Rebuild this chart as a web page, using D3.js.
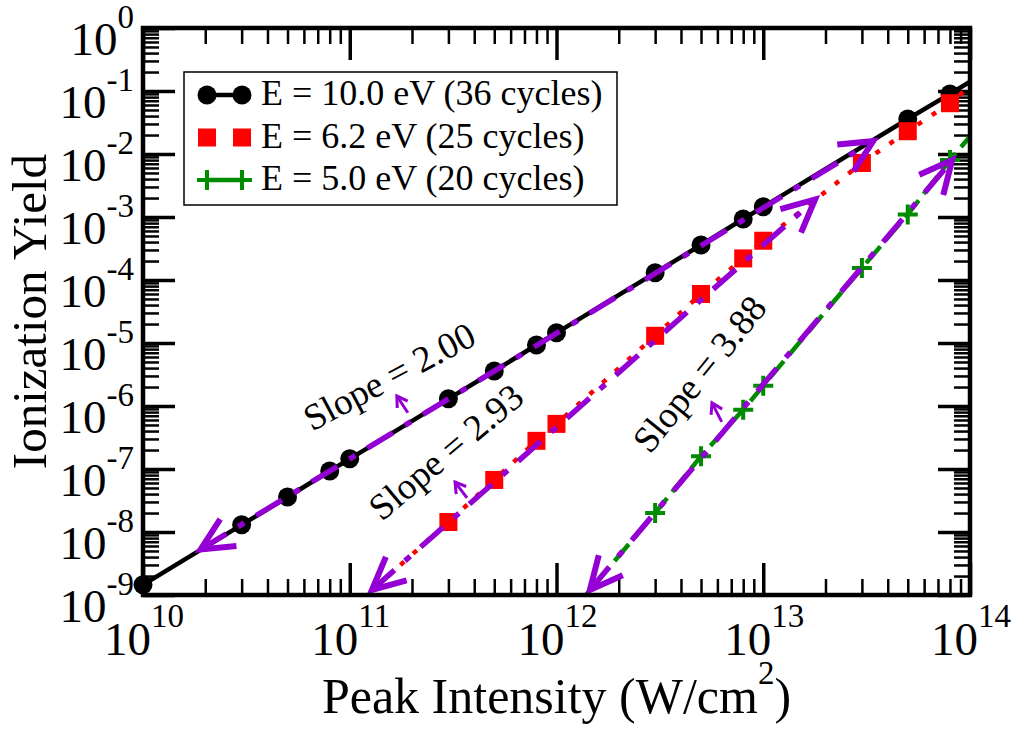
<!DOCTYPE html>
<html>
<head>
<meta charset="utf-8">
<script src="https://cdn.jsdelivr.net/npm/d3@7"></script>
<style>
  body { margin: 0; background: #fff; }
  text { font-family: "Liberation Serif", "Times New Roman", serif; fill: #000; }
</style>
</head>
<body>
<div id="chart"></div>
<script>
// E = 10.0 eV (36 cycles)
const intensity10 = [1e10, 3e10, 5e10, 8e10, 1e11, 3e11, 5e11, 8e11, 1e12, 3e12, 5e12, 8e12, 1e13, 5e13, 8e13, 1e14];
const yield10 = [1.45e-9, 1.3e-8, 3.6e-8, 9.3e-8, 1.45e-7, 1.3e-6, 3.6e-6, 9.3e-6, 1.45e-5, 1.3e-4, 3.6e-4, 9.3e-4, 1.45e-3, 3.6e-2, 9.0e-2, 1.4e-1];
// E = 6.2 eV (25 cycles)
const intensity62 = [1e11, 3e11, 5e11, 8e11, 1e12, 3e12, 5e12, 8e12, 1e13, 3e13, 5e13, 8e13, 1e14];
const yield62 = [5.7e-10, 1.44e-8, 6.7e-8, 2.8e-7, 5.2e-7, 1.3e-5, 6.0e-5, 2.2e-4, 4.2e-4, 7.2e-3, 2.3e-2, 6.4e-2, 1.2e-1];
// E = 5.0 eV (20 cycles)
const intensity50 = [1e12, 3e12, 5e12, 8e12, 1e13, 3e13, 5e13, 8e13, 1e14];
const yield50 = [2.8e-10, 2.0e-8, 1.6e-7, 8.7e-7, 2.1e-6, 1.55e-4, 1.1e-3, 8.0e-3, 1.9e-2];

const seriesNames = ['E = 10.0 eV (36 cycles)', 'E = 6.2 eV (25 cycles)', 'E = 5.0 eV (20 cycles)'];

// power-law fits, drawn as double arrows [intensity, yield]
const fitSlopes = ['2.00', '2.93', '3.88'];
const fitStart = [[1.9e10, 5.3e-9], [1.28e11, 1.2e-9], [1.45e12, 1.2e-9]];
const fitEnd = [[3.4e13, 1.6e-2], [1.78e13, 1.9e-3], [8.2e13, 8.0e-3]];
const slopeLabelAt = [[6.56e10, 3.9e-7], [1.43e11, 1.44e-8], [2.83e12, 1.67e-7]];
const slopeLabelAngle = [-28, -40, -51];
const pointerTail = [[1.91e11, 7.8e-7], [3.69e11, 3.47e-8], [6.3e12, 5.6e-7]];
const pointerTip = [[1.69e11, 1.44e-6], [3.23e11, 6.2e-8], [5.65e12, 1.12e-6]];

const xExps = [10, 11, 12, 13, 14];
const yExps = [0, -1, -2, -3, -4, -5, -6, -7, -8, -9];

const W = 1021, H = 731;
const plot = { left: 143, right: 970, top: 28, bottom: 595 };
const purple = '#9400d3';
const colors = ['#000000', '#ff0000', '#008b00'];

const svg = d3.select('#chart').append('svg')
  .attr('width', W)
  .attr('height', H);

const x = d3.scaleLog().domain([1e10, 1e14]).range([plot.left, plot.right]);
const y = d3.scaleLog().domain([1e-9, 1]).range([plot.bottom, plot.top]);

svg.append('clipPath').attr('id', 'clip')
  .append('rect')
  .attr('x', plot.left).attr('y', plot.top)
  .attr('width', plot.right - plot.left).attr('height', plot.bottom - plot.top);

// minor/major tick values
const xMinor = [];
for (let e = 10; e < 14; e++) for (let m = 2; m <= 9; m++) xMinor.push(m * Math.pow(10, e));
const yMinor = [];
for (let e = -9; e < 0; e++) for (let m = 2; m <= 9; m++) yMinor.push(m * Math.pow(10, e));
const xMajor = xExps.map(e => Math.pow(10, e));
const yMajor = yExps.map(e => Math.pow(10, e));

function tickAxis(axisFn, scale, vals, size, transform, width) {
  const a = svg.append('g')
    .attr('transform', transform)
    .call(axisFn(scale).tickValues(vals).tickSize(size).tickSizeOuter(0).tickFormat(''));
  a.select('.domain').remove();
  a.selectAll('.tick line').attr('stroke', '#000').attr('stroke-width', width);
}

// ticks point inward on all four sides
tickAxis(d3.axisTop, x, xMinor, 16, `translate(0,${plot.bottom})`, 2.5);
tickAxis(d3.axisTop, x, xMajor, 32, `translate(0,${plot.bottom})`, 3.5);
tickAxis(d3.axisBottom, x, xMinor, 16, `translate(0,${plot.top})`, 2.5);
tickAxis(d3.axisBottom, x, xMajor, 32, `translate(0,${plot.top})`, 3.5);
tickAxis(d3.axisRight, y, yMinor, 16, `translate(${plot.left},0)`, 2.5);
tickAxis(d3.axisRight, y, yMajor, 32, `translate(${plot.left},0)`, 3.5);
tickAxis(d3.axisLeft, y, yMinor, 16, `translate(${plot.right},0)`, 2.5);
tickAxis(d3.axisLeft, y, yMajor, 32, `translate(${plot.right},0)`, 3.5);

// tick labels
const xl = svg.append('g').selectAll('text')
  .data(xExps).enter().append('text')
  .attr('x', d => x(Math.pow(10, d)) + 1)
  .attr('y', plot.bottom + 60)
  .attr('text-anchor', 'middle')
  .style('font-size', '47px');
xl.append('tspan').text('10');
xl.append('tspan').attr('dy', -28).style('font-size', '33px').text(d => d);

const yl = svg.append('g').selectAll('text')
  .data(yExps).enter().append('text')
  .attr('x', plot.left - 9)
  .attr('y', d => y(Math.pow(10, d)) + 27)
  .attr('text-anchor', 'end')
  .style('font-size', '47px');
yl.append('tspan').text('10');
yl.append('tspan').attr('dy', -27).style('font-size', '33px').text(d => d === 0 ? '0' : '-' + Math.abs(d));

// axis titles
const xt = svg.append('text')
  .attr('x', (plot.left + plot.right) / 2)
  .attr('y', 713)
  .attr('text-anchor', 'middle')
  .style('font-size', '50px');
xt.append('tspan').text('Peak Intensity (W/cm');
xt.append('tspan').attr('dy', -29).style('font-size', '33px').text('2');
xt.append('tspan').attr('dy', 29).text(')');

svg.append('text')
  .attr('transform', `translate(46,${(plot.top + plot.bottom) / 2}) rotate(-90)`)
  .attr('text-anchor', 'middle')
  .style('font-size', '49px')
  .text('Ionization Yield');

// data series
const series = [
  { pts: intensity10.map((v, i) => ({ x: v, y: yield10[i] })), dash: null, sym: 'circle' },
  { pts: intensity62.map((v, i) => ({ x: v, y: yield62[i] })), dash: '5,12', sym: 'square' },
  { pts: intensity50.map((v, i) => ({ x: v, y: yield50[i] })), dash: '22,8', sym: 'plus' }
];

const line = d3.line().x(d => x(d.x)).y(d => y(d.y));

function drawSymbol(sel, type, color) {
  if (type === 'circle') {
    sel.append('circle').attr('r', 9.5).attr('fill', color);
  } else if (type === 'square') {
    sel.append('rect').attr('x', -9).attr('y', -9).attr('width', 18).attr('height', 18).attr('fill', color);
  } else {
    sel.append('path').attr('d', 'M-10,0H10M0,-10V10')
      .attr('stroke', color).attr('stroke-width', 4).attr('fill', 'none');
  }
}

series.forEach((s, i) => {
  svg.append('path')
    .datum(s.pts)
    .attr('clip-path', 'url(#clip)')
    .attr('d', line)
    .attr('fill', 'none')
    .attr('stroke', colors[i])
    .attr('stroke-width', 4.5)
    .attr('stroke-dasharray', s.dash);
  svg.append('g').selectAll('g')
    .data(s.pts.filter(d => d.x < 1e14 && d.y >= 1e-9))
    .enter().append('g')
    .attr('transform', d => `translate(${x(d.x)},${y(d.y)})`)
    .each(function () { drawSymbol(d3.select(this), s.sym, colors[i]); });
});

// fit arrows
function arrowHead(tx, ty, dx, dy, len, ang, width) {
  const n = Math.hypot(dx, dy);
  const ux = dx / n, uy = dy / n;
  const arm = a => {
    const c = Math.cos(a), s = Math.sin(a);
    return [tx - len * (ux * c - uy * s), ty - len * (ux * s + uy * c)];
  };
  const p1 = arm(ang), p2 = arm(-ang);
  svg.append('path')
    .attr('d', `M${p1[0]},${p1[1]}L${tx},${ty}L${p2[0]},${p2[1]}`)
    .attr('fill', 'none')
    .attr('stroke', purple)
    .attr('stroke-width', width);
}

fitStart.forEach((s, i) => {
  const x0 = x(s[0]), y0 = y(s[1]);
  const x1 = x(fitEnd[i][0]), y1 = y(fitEnd[i][1]);
  svg.append('line')
    .attr('x1', x0).attr('y1', y0).attr('x2', x1).attr('y2', y1)
    .attr('stroke', purple)
    .attr('stroke-width', 5.5)
    .attr('stroke-dasharray', '30,14,7,14');
  arrowHead(x0, y0, x0 - x1, y0 - y1, 36, 0.45, 6);
  arrowHead(x1, y1, x1 - x0, y1 - y0, 36, 0.45, 6);

  // slope label + small pointer
  svg.append('text')
    .attr('transform', `translate(${x(slopeLabelAt[i][0])},${y(slopeLabelAt[i][1])}) rotate(${slopeLabelAngle[i]})`)
    .style('font-size', '37px')
    .text('Slope = ' + fitSlopes[i]);

  const tx = x(pointerTip[i][0]), ty = y(pointerTip[i][1]);
  const bx = x(pointerTail[i][0]), by = y(pointerTail[i][1]);
  svg.append('line')
    .attr('x1', bx).attr('y1', by).attr('x2', tx).attr('y2', ty)
    .attr('stroke', purple).attr('stroke-width', 3);
  arrowHead(tx, ty, tx - bx, ty - by, 12, 0.55, 3);
});

// frame
svg.append('rect')
  .attr('x', plot.left).attr('y', plot.top)
  .attr('width', plot.right - plot.left).attr('height', plot.bottom - plot.top)
  .attr('fill', 'none')
  .attr('stroke', '#000')
  .attr('stroke-width', 4.5);

// legend
const legend = svg.append('g');
legend.append('rect')
  .attr('x', 184).attr('y', 72).attr('width', 433).attr('height', 133)
  .attr('fill', '#fff').attr('stroke', '#000').attr('stroke-width', 1.5);

const rows = legend.selectAll('g.row')
  .data(seriesNames).enter().append('g')
  .attr('class', 'row')
  .attr('transform', (d, i) => `translate(0,${95 + i * 42.5})`);

rows.each(function (d, i) {
  const r = d3.select(this);
  if (i !== 1) {
    r.append('line').attr('x1', 207).attr('x2', 242).attr('y1', 0).attr('y2', 0)
      .attr('stroke', colors[i]).attr('stroke-width', 4.5);
  }
  [207, 242].forEach(px => {
    const gsym = r.append('g').attr('transform', `translate(${px},0)`);
    drawSymbol(gsym, series[i].sym, colors[i]);
  });
  r.append('text')
    .attr('x', 261).attr('y', 10)
    .style('font-size', '36px')
    .text(d);
});
</script>
</body>
</html>
